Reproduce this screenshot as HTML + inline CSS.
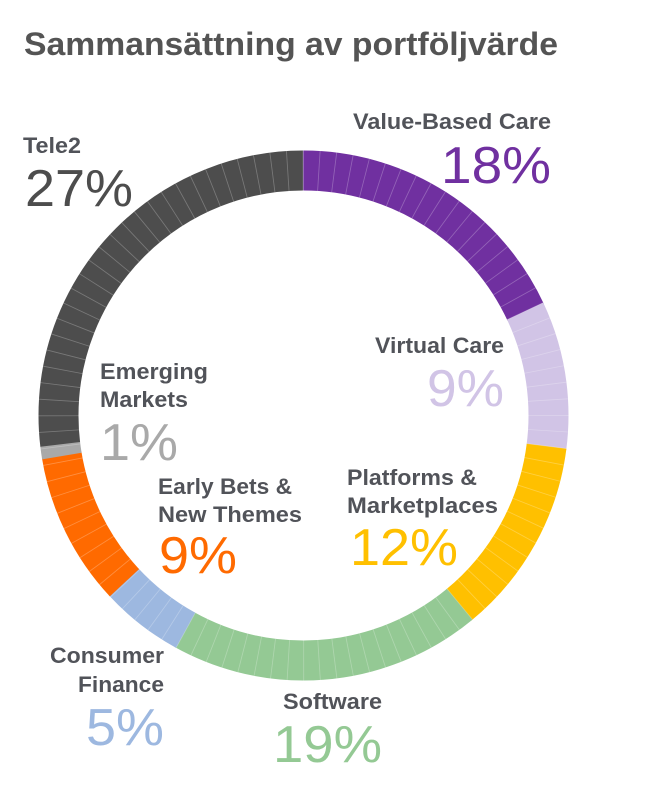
<!DOCTYPE html>
<html>
<head>
<meta charset="utf-8">
<style>
  html, body { margin:0; padding:0; background:#ffffff; }
  body { width:667px; height:786px; overflow:hidden; }
  svg { display:block; }
  .lbl { font-family:"Liberation Sans", sans-serif; font-weight:bold; font-size:22px; fill:#515359; }
  .pct { font-family:"Liberation Sans", sans-serif; font-weight:normal; font-size:52px; }
  .ttl { font-family:"Liberation Sans", sans-serif; font-weight:bold; font-size:32px; fill:#545454; }
</style>
</head>
<body>
<svg width="667" height="786" viewBox="0 0 667 786" xmlns="http://www.w3.org/2000/svg">
  <rect width="667" height="786" fill="#ffffff"/>

  <text class="ttl" x="24" y="55" textLength="534" lengthAdjust="spacingAndGlyphs">Sammansättning av portföljvärde</text>

  <!-- Donut ring: center (303.5,415.5), mid radius 245, width 40 -->
  <g transform="rotate(-90 303.5 415.5)" fill="none" stroke-width="40">
    <circle cx="303.5" cy="415.5" r="245" pathLength="100" stroke="#7030a0" stroke-dasharray="18.1 81.9" stroke-dashoffset="0"/>
    <circle cx="303.5" cy="415.5" r="245" pathLength="100" stroke="#d1c4e6" stroke-dasharray="9.1 90.9" stroke-dashoffset="-18"/>
    <circle cx="303.5" cy="415.5" r="245" pathLength="100" stroke="#ffc000" stroke-dasharray="12.1 87.9" stroke-dashoffset="-27"/>
    <circle cx="303.5" cy="415.5" r="245" pathLength="100" stroke="#94c994" stroke-dasharray="19.1 80.9" stroke-dashoffset="-39"/>
    <circle cx="303.5" cy="415.5" r="245" pathLength="100" stroke="#9db8e0" stroke-dasharray="5.16 94.84" stroke-dashoffset="-58"/>
    <circle cx="303.5" cy="415.5" r="245" pathLength="100" stroke="#ff6a00" stroke-dasharray="9.41 90.59" stroke-dashoffset="-63.06"/>
    <circle cx="303.5" cy="415.5" r="245" pathLength="100" stroke="#a9a9a9" stroke-dasharray="0.8 99.2" stroke-dashoffset="-72.37"/>
    <circle cx="303.5" cy="415.5" r="245" pathLength="100" stroke="#4d4d4d" stroke-dasharray="26.86 73.14" stroke-dashoffset="-73.14"/>
    <!-- thin segment stripes -->
    <circle cx="303.5" cy="415.5" r="245" pathLength="100" stroke="#ffffff" stroke-opacity="0.25" stroke-dasharray="0.055 0.945" stroke-dashoffset="0.0275"/>
  </g>

  <!-- Labels -->
  <text class="lbl" x="23" y="153" textLength="58" lengthAdjust="spacingAndGlyphs">Tele2</text>
  <text class="pct" x="25" y="206" fill="#4d4d4d" textLength="108" lengthAdjust="spacingAndGlyphs">27%</text>

  <text class="lbl" x="353" y="129" textLength="198" lengthAdjust="spacingAndGlyphs">Value-Based Care</text>
  <text class="pct" x="441" y="183" fill="#7030a0" textLength="110" lengthAdjust="spacingAndGlyphs">18%</text>

  <text class="lbl" x="375" y="353" textLength="129" lengthAdjust="spacingAndGlyphs">Virtual Care</text>
  <text class="pct" x="427" y="406" fill="#d1c4e6" textLength="77" lengthAdjust="spacingAndGlyphs">9%</text>

  <text class="lbl" x="100" y="379" textLength="108" lengthAdjust="spacingAndGlyphs">Emerging</text>
  <text class="lbl" x="100" y="407" textLength="88" lengthAdjust="spacingAndGlyphs">Markets</text>
  <text class="pct" x="100" y="460" fill="#a9a9a9" textLength="78" lengthAdjust="spacingAndGlyphs">1%</text>

  <text class="lbl" x="158" y="494" textLength="134" lengthAdjust="spacingAndGlyphs">Early Bets &amp;</text>
  <text class="lbl" x="158" y="522" textLength="144" lengthAdjust="spacingAndGlyphs">New Themes</text>
  <text class="pct" x="159" y="573" fill="#ff6a00" textLength="78" lengthAdjust="spacingAndGlyphs">9%</text>

  <text class="lbl" x="347" y="485" textLength="130" lengthAdjust="spacingAndGlyphs">Platforms &amp;</text>
  <text class="lbl" x="347" y="513" textLength="151" lengthAdjust="spacingAndGlyphs">Marketplaces</text>
  <text class="pct" x="350" y="565" fill="#ffc000" textLength="108" lengthAdjust="spacingAndGlyphs">12%</text>

  <text class="lbl" x="50" y="663" textLength="114" lengthAdjust="spacingAndGlyphs">Consumer</text>
  <text class="lbl" x="78" y="692" textLength="86" lengthAdjust="spacingAndGlyphs">Finance</text>
  <text class="pct" x="86" y="745" fill="#9db8e0" textLength="78" lengthAdjust="spacingAndGlyphs">5%</text>

  <text class="lbl" x="283" y="709" textLength="99" lengthAdjust="spacingAndGlyphs">Software</text>
  <text class="pct" x="273" y="762" fill="#94c994" textLength="109" lengthAdjust="spacingAndGlyphs">19%</text>
</svg>
</body>
</html>
